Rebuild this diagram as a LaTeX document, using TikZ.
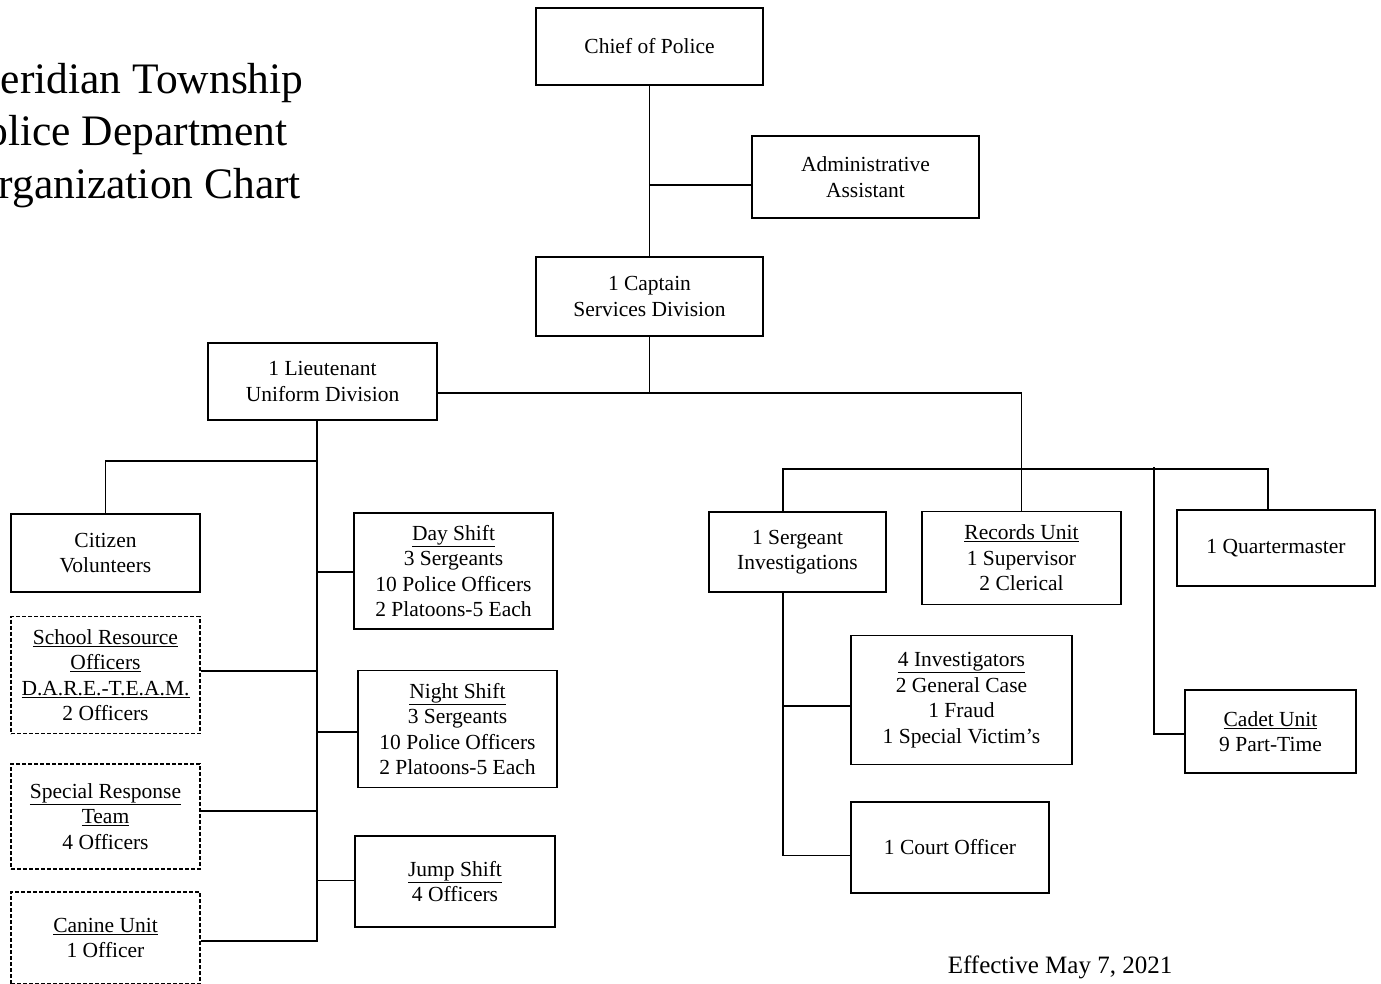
\documentclass[tikz,border=0pt]{standalone}
\usepackage{fontspec}
\setmainfont{Liberation Serif}
\begin{document}
\begin{tikzpicture}[x=1pt,y=-1pt,
  box/.style={draw, line width=1.8pt, align=center, inner sep=0pt,
    font=\fontsize{21.5}{25.5}\selectfont},
  dbox/.style={box, line width=1.5pt, dash pattern=on 4pt off 2pt},
  conn/.style={line width=1.8pt},
  ttl/.style={anchor=base west, inner sep=0pt, font=\fontsize{43.5}{52}\selectfont}]
\useasboundingbox (0,0) rectangle (1381,984);
\clip (0,0) rectangle (1381,984);

% title (cut off at the left edge, as in the reference)
\node[ttl] (t1) at (-38,94) {Meridian Township};
\node[ttl] (t2) at (-38,146) {Police Department};
\node[ttl] (t3) at (-33,199) {Organization Chart};

% boxes
\node[box, minimum width=227, minimum height=77] (chief) at (649.5,46.5) {Chief of Police};
\node[box, minimum width=227, minimum height=82] (admin) at (865.5,177) {Administrative\\Assistant};
\node[box, minimum width=227, minimum height=79] (captain) at (649.5,296.5) {1 Captain\\Services Division};
\node[box, minimum width=229, minimum height=77] (lt) at (322.5,381.5) {1 Lieutenant\\Uniform Division};

\node[box, minimum width=189, minimum height=78] (citizen) at (105.5,553) {Citizen\\Volunteers};
\node[dbox, minimum width=189, minimum height=117] (school) at (105.5,675)
  {\underline{School Resource}\\\underline{Officers}\\\underline{D.A.R.E.-T.E.A.M.}\\2 Officers};
\node[dbox, minimum width=189, minimum height=105] (srt) at (105.5,816.5)
  {\underline{Special Response}\\\underline{Team}\\4 Officers};
\node[dbox, minimum width=189, minimum height=92] (canine) at (105.5,938)
  {\underline{Canine Unit}\\1 Officer};

\node[box, minimum width=199, minimum height=116] (day) at (453.5,571)
  {\underline{Day Shift}\\3 Sergeants\\10 Police Officers\\2 Platoons-5 Each};
\node[box, minimum width=199, minimum height=117] (night) at (457.5,729)
  {\underline{Night Shift}\\3 Sergeants\\10 Police Officers\\2 Platoons-5 Each};
\node[box, minimum width=200, minimum height=91] (jump) at (455,881.5)
  {\underline{Jump Shift}\\4 Officers};

\node[box, minimum width=177, minimum height=80] (sgt) at (797.5,552) {1 Sergeant\\Investigations};
\node[box, minimum width=199, minimum height=93] (records) at (1021.5,558)
  {\underline{Records Unit}\\1 Supervisor\\2 Clerical};
\node[box, minimum width=198, minimum height=76] (qm) at (1276,548) {1 Quartermaster};
\node[box, minimum width=221, minimum height=129] (inv) at (961.5,700)
  {\underline{4 Investigators}\\2 General Case\\1 Fraud\\1 Special Victim’s};
\node[box, minimum width=171, minimum height=83] (cadet) at (1270.5,731.5)
  {\underline{Cadet Unit}\\9 Part-Time};
\node[box, minimum width=198, minimum height=91] (court) at (950,847.5) {1 Court Officer};

\node[anchor=base, inner sep=0pt, font=\fontsize{25}{30}\selectfont] (eff) at (1060,973) {Effective May 7, 2021};

% junction coordinates
\coordinate (rowA) at (0,393);
\coordinate (rowB) at (0,469);
\coordinate (rowC) at (0,461);
\coordinate (sgtx) at (783,0);
\coordinate (qmx) at (1268,0);
\coordinate (cadx) at (1154,0);
\coordinate (ltx) at (317,0);

% connectors
\draw[conn] (chief.south) -- (captain.north);
\draw[conn] ([yshift=-8pt]admin.west) -- ([yshift=-8pt]admin.west -| chief.south);
\draw[conn] (captain.south) -- (captain.south |- rowA);
\draw[conn] (lt.east |- rowA) -- (rowA -| records.north) -- (records.north);
\draw[conn] (sgtx |- sgt.north) -- (sgtx |- rowB) -- (qmx |- rowB) -- (qmx |- qm.north);
\draw[conn] ([yshift=2pt]cadx |- rowB) -- ([yshift=-2.5pt]cadx |- cadet.west) -- ([yshift=-2.5pt]cadet.west);
\draw[conn] (sgtx |- sgt.south) -- ([yshift=-8pt]sgtx |- court.west) -- ([yshift=-8pt]court.west);
\draw[conn] ([yshift=-6pt]sgtx |- inv.west) -- ([yshift=-6pt]inv.west);

\draw[conn] (ltx |- lt.south) -- ([yshift=-3pt]ltx |- canine.east) -- ([yshift=-3pt]canine.east);
\draw[conn] (ltx |- rowC) -- (citizen.north |- rowC) -- (citizen.north);
\draw[conn] ([yshift=-1pt]day.west) -- ([yshift=-1pt]day.west -| ltx);
\draw[conn] ([yshift=4pt]school.east) -- ([yshift=4pt]school.east -| ltx);
\draw[conn] ([yshift=-3pt]night.west) -- ([yshift=-3pt]night.west -| ltx);
\draw[conn] ([yshift=5.5pt]srt.east) -- ([yshift=5.5pt]srt.east -| ltx);
\draw[conn] ([yshift=1pt]jump.west) -- ([yshift=1pt]jump.west -| ltx);
\end{tikzpicture}
\end{document}
